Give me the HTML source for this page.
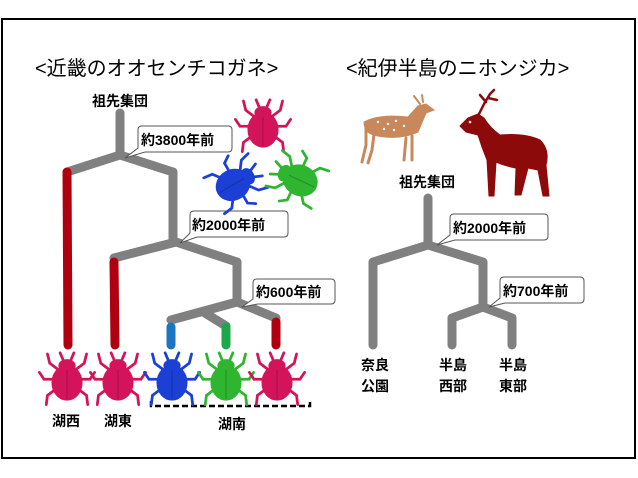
<!DOCTYPE html>
<html><head><meta charset="utf-8"><style>
html,body{margin:0;padding:0;background:#fff;}
svg{display:block;font-family:"Liberation Sans","Noto Sans CJK JP",sans-serif;}
</style></head><body>
<svg width="638" height="478" viewBox="0 0 638 478" xmlns="http://www.w3.org/2000/svg">
<defs>
<g id="bt">
 <g stroke-width="2.4" fill="none" stroke-linecap="round">
  <path d="M-7,-6 L-15,-12 L-17,-20"/><path d="M7,-6 L15,-12 L17,-20"/>
  <path d="M-10,2 L-20,2 L-24,-4"/><path d="M10,2 L20,2 L24,-4"/>
  <path d="M-9,10 L-17,16 L-18,24"/><path d="M9,10 L17,16 L18,24"/>
  <path d="M-3,-14 L-6,-21"/><path d="M3,-14 L6,-21"/>
 </g>
 <ellipse cx="0" cy="-10" rx="7" ry="5"/>
 <ellipse cx="0" cy="5" rx="13" ry="15"/>
 <path d="M0,-6 L0,19" stroke="#0003" stroke-width="1"/>
</g>
</defs>
<rect x="2" y="19" width="633" height="439" fill="#fff" stroke="#000" stroke-width="2"/>
<text x="35" y="75" font-size="20">&lt;近畿のオオセンチコガネ&gt;</text>
<text x="346" y="75" font-size="20">&lt;紀伊半島のニホンジカ&gt;</text>
<text x="120" y="106" font-size="14" font-weight="bold" text-anchor="middle">祖先集団</text>

<g fill="none" stroke="#808080" stroke-width="9" stroke-linecap="round" stroke-linejoin="round">
 <path d="M120,113 L120,155"/>
 <path d="M67,172 L120,155 L173,172 L173,242"/>
 <path d="M114,258 L176,242 L237,262 L237,302"/>
 <path d="M171,320 L237,302 L276,318"/>
 <path d="M205,313 L226,326"/>
 <path d="M428,198 L428,245"/>
 <path d="M373,345 L373,262 L428,245 L483,262 L483,307"/>
 <path d="M452,345 L452,318 L483,307 L512,318 L512,345"/>
</g>
<g fill="none" stroke-width="9" stroke-linecap="round">
 <path d="M67,172 L68,345" stroke="#b00010"/>
 <path d="M114,262 L115,345" stroke="#b00010"/>
 <path d="M171,327 L171,345" stroke="#1b75c0"/>
 <path d="M226,327 L226,345" stroke="#1ca84a"/>
 <path d="M276,322 L276,345" stroke="#b00010"/>
</g>

<g font-size="14" font-weight="bold" fill="#000">
 <g stroke="#555" stroke-width="1" fill="#fff">
  <path d="M142,126 H228 Q232,126 232,130 V148 Q232,152 228,152 H145 L125,158 L138,148 V130 Q138,126 142,126 Z"/>
  <path d="M194,211 H284 Q288,211 288,215 V233 Q288,237 284,237 H197 L180,243 L190,233 V215 Q190,211 194,211 Z"/>
  <path d="M257,279 H331 Q335,279 335,283 V300 Q335,304 331,304 H258 L242,307 L253,299 V283 Q253,279 257,279 Z"/>
  <path d="M454,214 H544 Q548,214 548,218 V236 Q548,240 544,240 H455 L437,245 L450,235 V218 Q450,214 454,214 Z"/>
  <path d="M504,277 H580 Q584,277 584,281 V299 Q584,303 580,303 H505 L489,307 L500,298 V281 Q500,277 504,277 Z"/>
 </g>
 <text x="141" y="145">約3800年前</text>
 <text x="192" y="230">約2000年前</text>
 <text x="256" y="297">約600年前</text>
 <text x="453" y="233">約2000年前</text>
 <text x="503" y="296">約700年前</text>
 <text x="66" y="426" text-anchor="middle">湖西</text>
 <text x="118" y="426" text-anchor="middle">湖東</text>
 <text x="232" y="429" text-anchor="middle">湖南</text>
 <text x="427" y="187" text-anchor="middle">祖先集団</text>
 <text x="375" y="370" text-anchor="middle">奈良</text>
 <text x="375" y="391" text-anchor="middle">公園</text>
 <text x="453" y="370" text-anchor="middle">半島</text>
 <text x="453" y="391" text-anchor="middle">西部</text>
 <text x="513" y="370" text-anchor="middle">半島</text>
 <text x="513" y="391" text-anchor="middle">東部</text>
</g>
<path d="M151,401 V406 H310 V401" fill="none" stroke="#000" stroke-width="2.5" stroke-dasharray="6,3"/>

<use href="#bt" transform="translate(67,377) scale(1.15)" fill="#d4145a" stroke="#d4145a"/>
<use href="#bt" transform="translate(118,377) scale(1.15)" fill="#d4145a" stroke="#d4145a"/>
<use href="#bt" transform="translate(172,377) scale(1.15)" fill="#1c3fd6" stroke="#1c3fd6"/>
<use href="#bt" transform="translate(226,377) scale(1.15)" fill="#2fb52f" stroke="#2fb52f"/>
<use href="#bt" transform="translate(277,377) scale(1.15)" fill="#d4145a" stroke="#d4145a"/>
<use href="#bt" transform="translate(263,124) scale(1.15)" fill="#d4145a" stroke="#d4145a"/>
<use href="#bt" transform="translate(238,182) rotate(60) scale(1.15)" fill="#1c3fd6" stroke="#1c3fd6"/>
<use href="#bt" transform="translate(295,178) rotate(-65) scale(1.15)" fill="#2fb52f" stroke="#2fb52f"/>

<!-- small deer -->
<g fill="#c8885c" stroke="#c8885c" stroke-width="3" stroke-linecap="round">
 <path d="M366,128 L366,145 L362,162 M374,134 L372,150 L368,163 M412,136 L412,160 M406,138 L404,160" fill="none"/>
 <path d="M364,122 Q378,114 408,117 L418,106 L426,104 L434,110 L426,113 L418,132 Q400,140 378,136 Q364,134 364,122 Z" stroke-width="1"/>
 <path d="M420,104 L414,96 M423,102 L422,95" stroke-width="2"/>
</g>
<g fill="#fff"><circle cx="378" cy="122" r="1.2"/><circle cx="388" cy="124" r="1.2"/><circle cx="396" cy="121" r="1.2"/><circle cx="384" cy="129" r="1.2"/><circle cx="404" cy="126" r="1.2"/><circle cx="394" cy="130" r="1.2"/></g>
<!-- stag -->
<g fill="#8c0a0a" stroke="#8c0a0a" stroke-linecap="round" stroke-linejoin="round">
 <path d="M460,126 L468,118 L478,114 L484,118 Q490,128 500,135 Q525,133 540,140 Q550,150 546,165 L549,196 L543,196 L538,170 L528,168 L521,195 L515,195 L516,168 Q505,166 496,162 L494,196 L489,196 L487,160 Q482,148 478,135 L466,132 Z" stroke-width="1"/>
 <path d="M478,116 L484,104 L490,94 L494,90 M486,102 L480,95 M488,98 L497,100" stroke-width="2.5" fill="none"/>
</g>
<circle cx="470" cy="122" r="1.3" fill="#fff"/>
</svg>
</body></html>
